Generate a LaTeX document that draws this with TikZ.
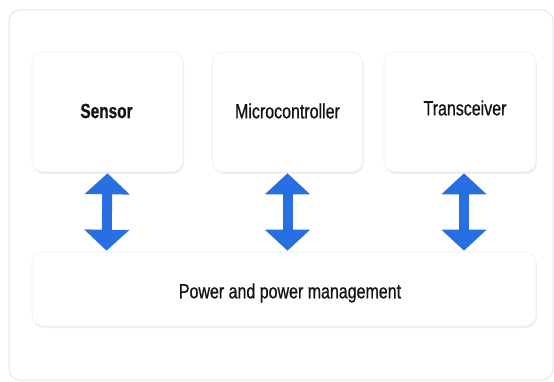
\documentclass[tikz,border=0pt]{standalone}
\usepackage{fontspec}
\setmainfont{Liberation Sans}[FakeStretch=0.78, FakeBold=0.7, BoldFeatures={FakeStretch=0.75}]
\usetikzlibrary{arrows.meta,shadows}
\definecolor{arrowblue}{RGB}{40,112,226}
\definecolor{frameline}{RGB}{228,228,240}
\definecolor{boxline}{RGB}{236,236,240}
\definecolor{txt}{RGB}{20,20,20}
\tikzset{
  card/.style={draw=boxline, line width=0.6pt, fill=white, rounded corners=11pt,
    drop shadow={opacity=0.12, shadow xshift=1pt, shadow yshift=-2pt},
    inner sep=0pt},
  cardtext/.style={text=txt, font=\fontsize{20.5}{24}\selectfont, inner sep=0pt},
  bigarrow/.style={draw=arrowblue, line width=10pt,
    {Triangle[width=44pt,length=21pt]}-{Triangle[width=44pt,length=21pt]}}
}
\begin{document}
\begin{tikzpicture}[x=1pt,y=1pt]
\useasboundingbox (0,0) rectangle (554,-382);
\draw[frameline, line width=1pt, fill=white, rounded corners=11pt] (9,-10) rectangle (553,-380);
\node[card, minimum width=151pt, minimum height=120pt] (sensor) at (107.5,-112) {};
\node[card, minimum width=151pt, minimum height=120pt] (micro) at (287.5,-112) {};
\node[card, minimum width=152pt, minimum height=120pt] (trans) at (460,-112) {};
\node[card, minimum width=504pt, minimum height=74pt] (power) at (284,-289) {};
\node[cardtext] (sensortxt) at ([xshift=-1pt,yshift=1pt]sensor.center) {\bfseries Sensor};
\node[cardtext] (microtxt) at ([xshift=0pt,yshift=1pt]micro.center) {Microcontroller};
\node[cardtext] (transtxt) at ([xshift=5pt,yshift=4pt]trans.center) {Transceiver};
\node[cardtext] (powertxt) at ([xshift=6pt,yshift=-4pt]power.center) {Power and power management};
\draw[bigarrow] ([yshift=-1pt]sensor.south) -- ([xshift=-1pt,yshift=1pt]sensor.south |- power.north);
\draw[bigarrow] ([yshift=-1pt]micro.south) -- ([yshift=1pt]micro.south |- power.north);
\draw[bigarrow] ([xshift=4pt,yshift=-1pt]trans.south) -- ([xshift=4pt,yshift=1pt]trans.south |- power.north);
\end{tikzpicture}
\end{document}
